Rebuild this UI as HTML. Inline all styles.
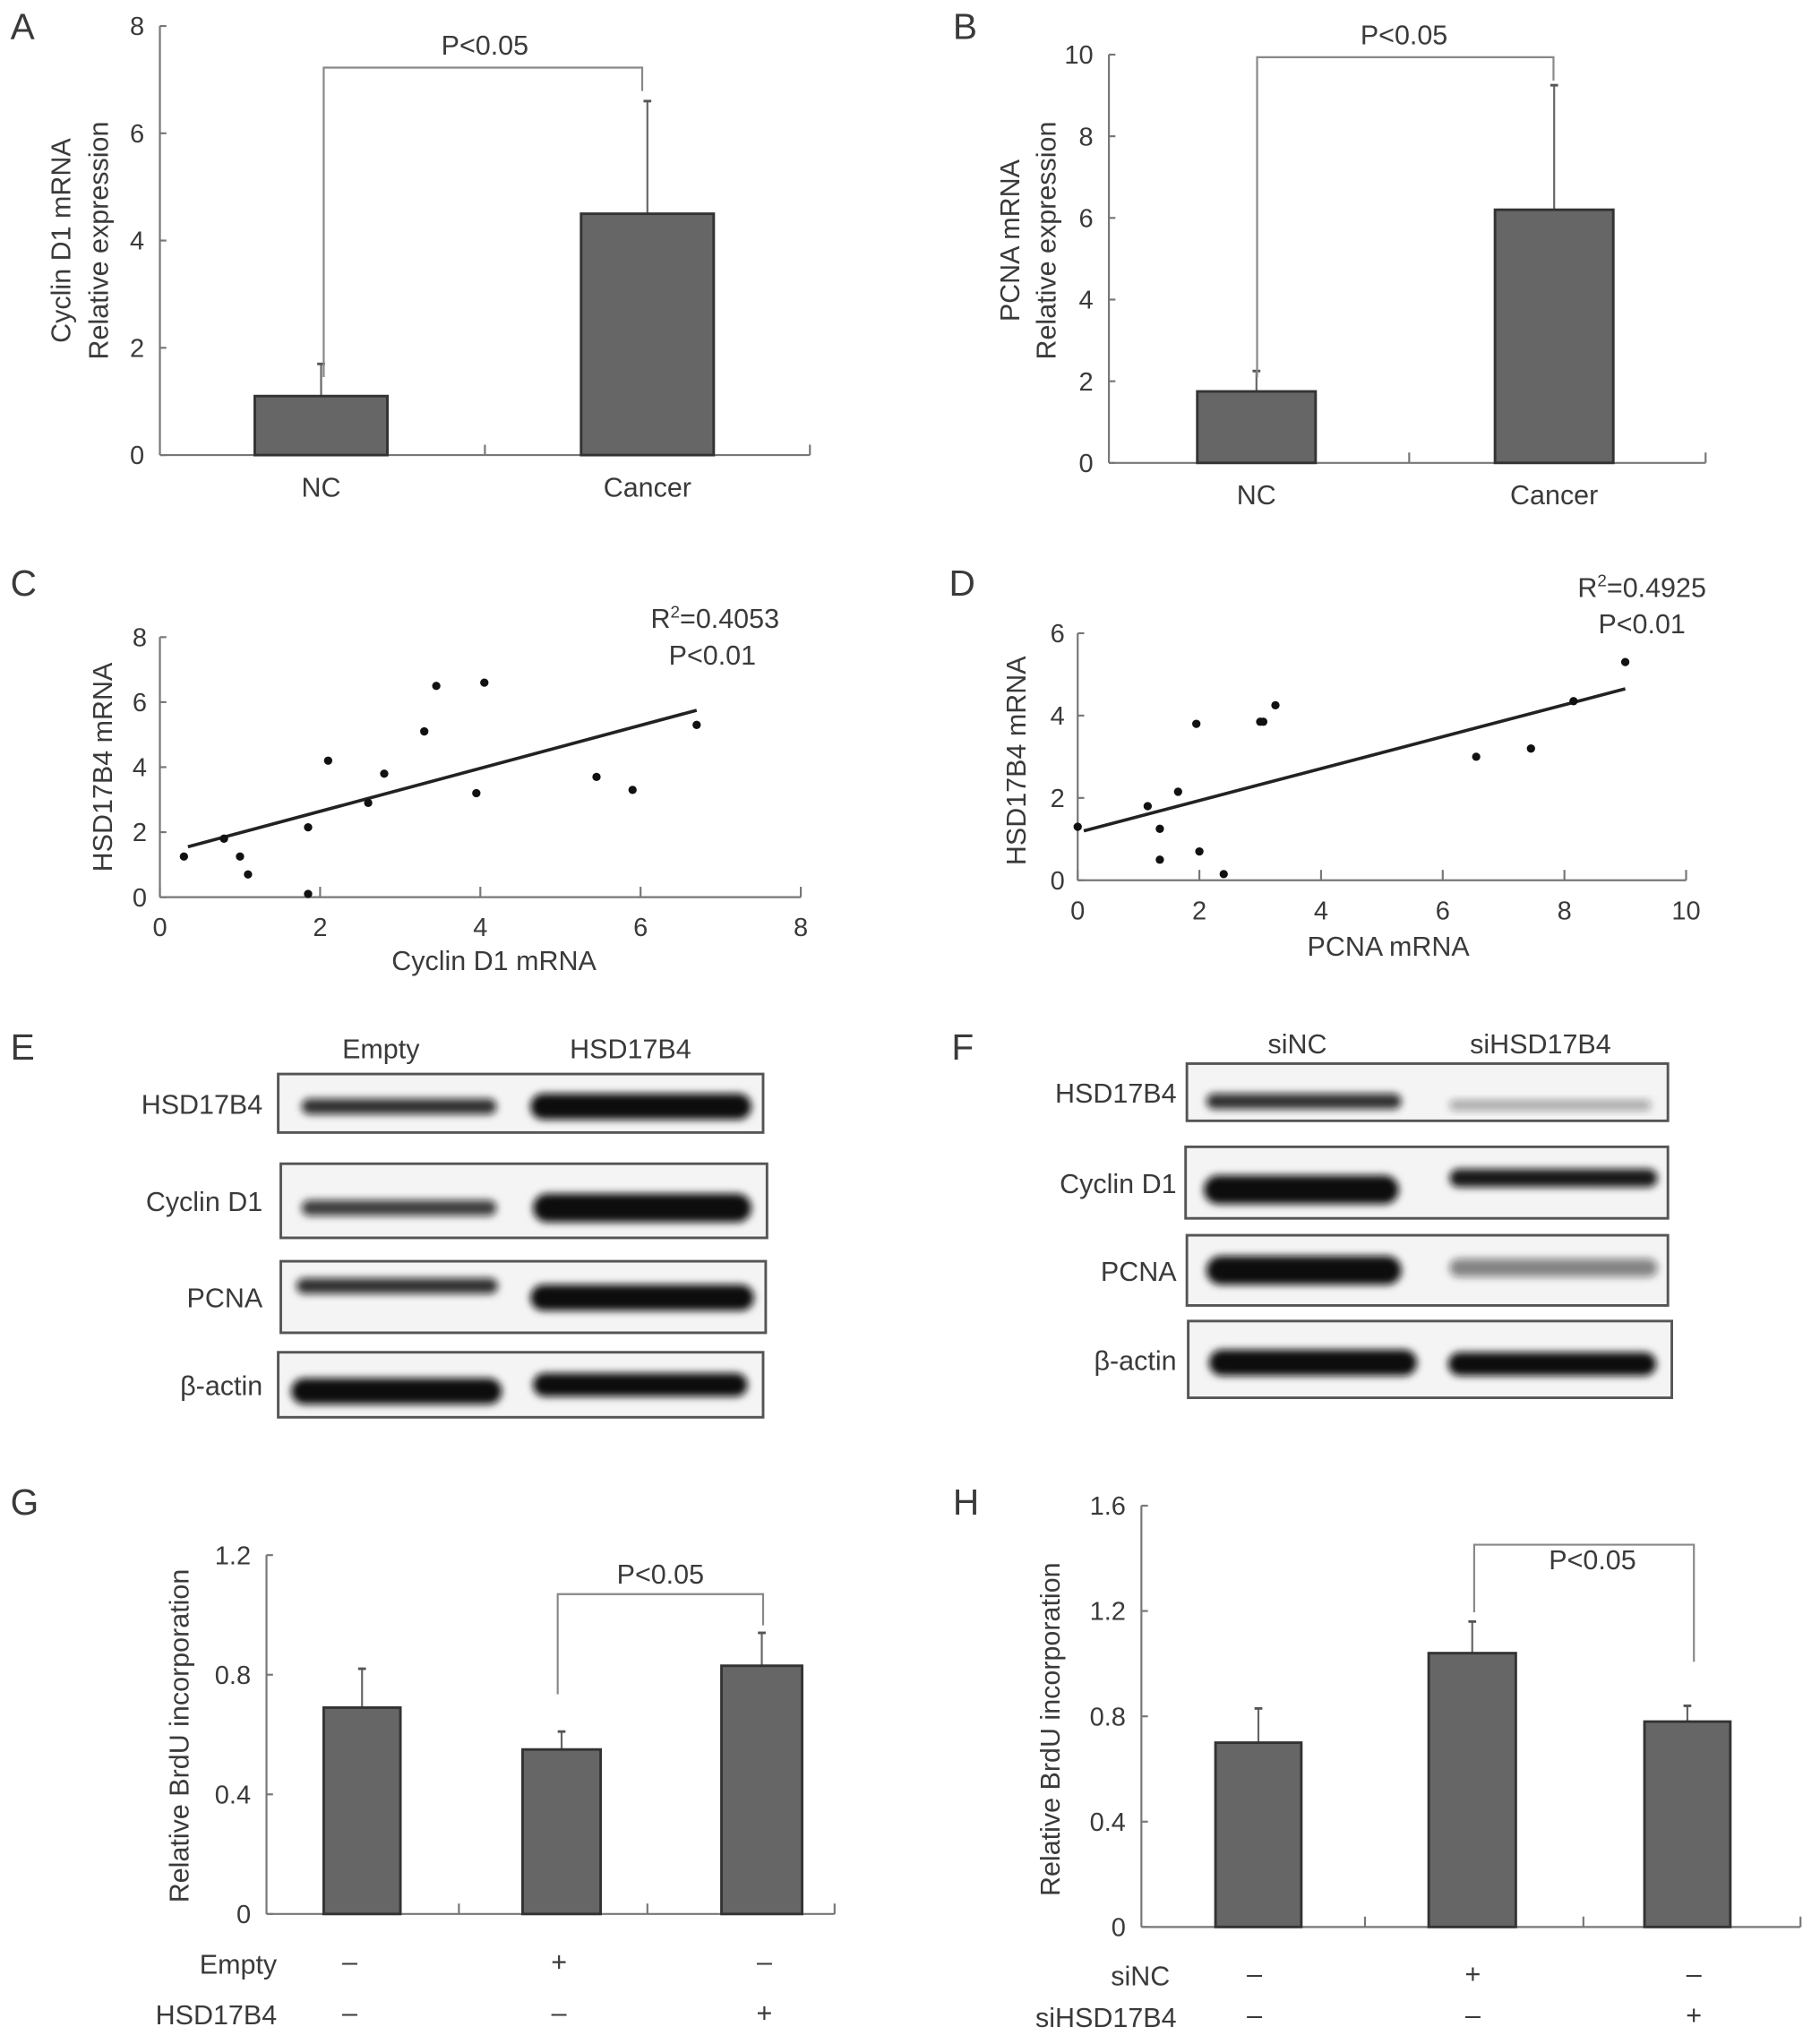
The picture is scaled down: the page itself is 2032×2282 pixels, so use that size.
<!DOCTYPE html>
<html><head><meta charset="utf-8"><style>
html,body{margin:0;padding:0;background:#fff}
svg{display:block}
text{font-family:"Liberation Sans",sans-serif;fill:#3a3a3a}
</style></head><body>
<svg id="fig" width="2032" height="2282" viewBox="0 0 1400 1572" preserveAspectRatio="none" xmlns="http://www.w3.org/2000/svg">
<defs><filter id="blur" x="-20%" y="-50%" width="140%" height="200%"><feGaussianBlur stdDeviation="3"/></filter></defs>
</svg>
<script>
// Panel A data
const aCats=["NC","Cancer"];const aVals=[1.1,4.5];const aErr=[1.7,6.6];const aTicks=[0,2,4,6,8];
// Panel B data
const bCats=["NC","Cancer"];const bVals=[1.75,6.2];const bErr=[2.25,9.25];const bTicks=[0,2,4,6,8,10];
// Panel C data
const cX=[0.3,0.8,1.0,1.1,1.85,1.85,2.1,2.6,2.8,3.3,3.45,3.95,4.05,5.45,5.9,6.7];
const cY=[1.25,1.8,1.25,0.7,2.15,0.1,4.2,2.9,3.8,5.1,6.5,3.2,6.6,3.7,3.3,5.3];
const cFitX=[0.35,6.7];const cFitY=[1.55,5.75];const cXTicks=[0,2,4,6,8];const cYTicks=[0,2,4,6,8];
// Panel D data
const dX=[0,1.15,1.35,1.35,1.65,1.95,2.0,2.4,3.0,3.05,3.25,6.55,7.45,8.15,9.0];
const dY=[1.3,1.8,1.25,0.5,2.15,3.8,0.7,0.15,3.85,3.85,4.25,3.0,3.2,4.35,5.3];
const dFitX=[0.1,9.0];const dFitY=[1.2,4.65];const dXTicks=[0,2,4,6,8,10];const dYTicks=[0,2,4,6];
// Panel G data
const gVals=[0.69,0.55,0.83];const gErr=[0.82,0.61,0.94];const gTicks=[0,0.4,0.8,1.2];
const gRow1=["–","+","–"];const gRow2=["–","–","+"];
// Panel H data
const hVals=[0.70,1.04,0.78];const hErr=[0.83,1.16,0.84];const hTicks=[0,0.4,0.8,1.2,1.6];
const hRow1=["–","+","–"];const hRow2=["–","–","+"];

const svg=document.getElementById('fig');const NS="http://www.w3.org/2000/svg";
function el(t,a,txt){const e=document.createElementNS(NS,t);for(const k in a)e.setAttribute(k,a[k]);if(txt!==undefined)e.textContent=txt;svg.appendChild(e);return e;}
function line(x1,y1,x2,y2,name,c,w){const e=el('line',{x1,y1,x2,y2,stroke:c||'#777','stroke-width':w||1.5});

return e;}
function txt(x,y,s,name,size,anchor,extra){const e=el('text',Object.assign({x,y,'font-size':size||20,'text-anchor':anchor||'middle'},extra||{}),s);

return e;}
function letter(x,y,s){txt(x,y,s,'panel-label-'+s.toLowerCase(),28,'start');}

function barPanel(o){
 const sy=v=>o.y0-(v-o.vmin)/(o.vmax-o.vmin)*(o.y0-o.ytop);
 line(o.x0,o.y0,o.x0,o.ytop,'y-axis');
 line(o.x0,o.y0,o.x1,o.y0,'x-axis');
 o.ticks.forEach(t=>{const y=sy(t);line(o.x0,y,o.x0+5,y,'y-tick');txt(o.x0-12,y+7,o.fmt(t),'y-tick-label',20,'end');});
 o.xticks.forEach(x=>line(x,o.y0,x,o.y0-8,'x-tick'));
 o.vals.forEach((v,i)=>{const [xa,xb]=o.bars[i];const xc=(xa+xb)/2;
  line(xc,sy(v),xc,sy(o.err[i]),'error-bar','#666',1.5);line(xc-3,sy(o.err[i]),xc+3,sy(o.err[i]),'error-cap','#555',2);
  const r=el('rect',{x:xa,y:sy(v),width:xb-xa,height:o.y0-sy(v),fill:'#666',stroke:'#333','stroke-width':2});
  
  
  if(o.cats)txt(xc,o.catY,o.cats[i],'x-category-label',21);
 });
 return sy;
}
function bracket(xa,ya,xb,yb,ytop,px,py){const p=el('path',{d:`M${xa},${ya}V${ytop}H${xb}V${yb}`,fill:'none',stroke:'#888','stroke-width':1.5});


txt(px,py,'P<0.05','p-value-label',21);}
function vtitle(x,y,s,name){txt(x,y,s,name,21,'middle',{transform:`rotate(-90 ${x} ${y})`});}

// A
letter(8,30,'A');
let sy=barPanel({x0:123,x1:623,y0:350,ytop:20,vmin:0,vmax:8,ticks:aTicks,fmt:t=>t,xticks:[373,623],vals:aVals,err:aErr,bars:[[196,298],[447,549]],cats:aCats,catY:382});
bracket(249,290,494,70,52,373,42);
vtitle(54,185,'Cyclin D1 mRNA','y-axis-title');vtitle(83,185,'Relative expression','y-axis-title');
// B
letter(733,30,'B');
sy=barPanel({x0:853,x1:1312,y0:356,ytop:42,vmin:0,vmax:10,ticks:bTicks,fmt:t=>t,xticks:[1084,1312],vals:bVals,err:bErr,bars:[[921,1012],[1150,1241]],cats:bCats,catY:388});
bracket(967,290,1195,62,44,1080,34);
vtitle(784,185,'PCNA mRNA','y-axis-title');vtitle(812,185,'Relative expression','y-axis-title');

function scatter(o){
 const sx=v=>o.x0+(v-o.xmin)/(o.xmax-o.xmin)*(o.x1-o.x0);
 const sy=v=>o.y0-(v-o.ymin)/(o.ymax-o.ymin)*(o.y0-o.ytop);
 line(o.x0,o.y0,o.x0,o.ytop,'y-axis');line(o.x0,o.y0,o.x1,o.y0,'x-axis');
 o.xt.forEach(t=>{const x=sx(t);line(x,o.y0,x,o.y0-8,'x-tick');txt(x,o.y0+30,t,'x-tick-label',20);});
 o.yt.forEach(t=>{const y=sy(t);line(o.x0,y,o.x0+5,y,'y-tick');txt(o.x0-10,y+7,t,'y-tick-label',20,'end');});
 const f=line(sx(o.fx[0]),sy(o.fy[0]),sx(o.fx[1]),sy(o.fy[1]),'regression-line','#222',2.5);
 o.xs.forEach((v,i)=>{const c=el('circle',{cx:sx(v),cy:sy(o.ys[i]),r:3.2,fill:'#111'});
  
  });
}
// C
letter(8,458,'C');
scatter({x0:123,x1:616,y0:690,ytop:490,xmin:0,xmax:8,ymin:0,ymax:8,xt:cXTicks,yt:cYTicks,xs:cX,ys:cY,fx:cFitX,fy:cFitY});
const r1=txt(550,483,'','r-squared-label',21);r1.innerHTML='R<tspan dy="-8" font-size="13">2</tspan><tspan dy="8">=0.4053</tspan>';
txt(548,511,'P<0.01','p-value-label',21);
vtitle(86,590,'HSD17B4 mRNA','y-axis-title');txt(380,746,'Cyclin D1 mRNA','x-axis-title',21);
// D
letter(730,458,'D');
scatter({x0:829,x1:1297,y0:677,ytop:487,xmin:0,xmax:10,ymin:0,ymax:6,xt:dXTicks,yt:dYTicks,xs:dX,ys:dY,fx:dFitX,fy:dFitY});
const r2=txt(1263,459,'','r-squared-label',21);r2.innerHTML='R<tspan dy="-8" font-size="13">2</tspan><tspan dy="8">=0.4925</tspan>';
txt(1263,487,'P<0.01','p-value-label',21);
vtitle(789,585,'HSD17B4 mRNA','y-axis-title');txt(1068,735,'PCNA mRNA','x-axis-title',21);

// Blots
function blot(x,y,w,h,label,lx,bands){
 const r=el('rect',{x,y,width:w,height:h,fill:'#f4f4f4',stroke:'#555','stroke-width':2});
 
 
 bands.forEach(b=>{const e=el('rect',{x:b[0],y:b[1],width:b[2],height:b[3],rx:b[3]/2,fill:'#111','fill-opacity':b[4],filter:'url(#blur)'});
  
  });
 txt(lx,y+h/2+8,label,'blot-row-label',21,'end');
}
letter(8,815,'E');
txt(293,814,'Empty','lane-header',21);txt(485,814,'HSD17B4','lane-header',21);
blot(214,826,373,45,'HSD17B4',202,[[232,845,150,12,0.85],[408,841,170,20,1]]);
blot(216,895,374,57,'Cyclin D1',202,[[232,923,150,12,0.8],[410,918,168,22,1]]);
blot(216,970,373,55,'PCNA',202,[[228,983,155,12,0.85],[408,988,172,20,1]]);
blot(214,1040,373,50,'β-actin',202,[[224,1060,162,20,1],[410,1056,165,18,1]]);
letter(732,815,'F');
txt(998,810,'siNC','lane-header',21);txt(1185,810,'siHSD17B4','lane-header',21);
blot(913,818,370,44,'HSD17B4',905,[[928,841,150,12,0.85],[1115,846,155,8,0.35]]);
blot(912,882,371,55,'Cyclin D1',905,[[926,904,150,22,1],[1115,899,160,14,0.95]]);
blot(913,950,370,54,'PCNA',905,[[928,966,150,22,1],[1115,968,160,14,0.5]]);
blot(914,1016,372,59,'β-actin',905,[[930,1038,160,20,1],[1114,1040,160,18,1]]);

// G
letter(8,1165,'G');
sy=barPanel({x0:205,x1:642,y0:1472,ytop:1196,vmin:0,vmax:1.2,ticks:gTicks,fmt:t=>t===0?'0':t.toFixed(1),xticks:[353,498,642],vals:gVals,err:gErr,bars:[[249,308],[402,462],[555,617]]});
bracket(429,1303,587,1250,1226,508,1218);
vtitle(145,1335,'Relative BrdU incorporation','y-axis-title');
txt(213,1518,'Empty','row-label',21,'end');txt(213,1557,'HSD17B4','row-label',21,'end');
[269,430,588].forEach((x,i)=>{txt(x,1516,gRow1[i],'sign',21);txt(x,1555,gRow2[i],'sign',21);});
// H
letter(733,1165,'H');
sy=barPanel({x0:878,x1:1385,y0:1482,ytop:1158,vmin:0,vmax:1.6,ticks:hTicks,fmt:t=>t===0?'0':t.toFixed(1),xticks:[1050,1218,1385],vals:hVals,err:hErr,bars:[[935,1001],[1099,1166],[1265,1331]]});
bracket(1134,1240,1303,1278,1188,1225,1207);
vtitle(815,1330,'Relative BrdU incorporation','y-axis-title');
txt(900,1527,'siNC','row-label',21,'end');txt(905,1559,'siHSD17B4','row-label',21,'end');
[965,1133,1303].forEach((x,i)=>{txt(x,1525,hRow1[i],'sign',21);txt(x,1557,hRow2[i],'sign',21);});
</script>
</body></html>
